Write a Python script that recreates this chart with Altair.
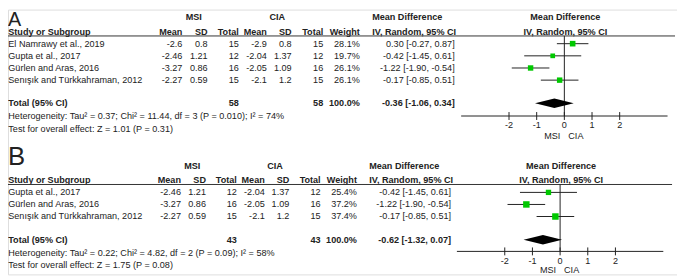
import altair as alt
import pandas as pd

# ---------------- data: panel A ----------------
studies_a = ["El Namrawy et al., 2019", "Gupta et al., 2017",
             "Gürlen and Aras, 2016", "Senışık and Türkkahraman, 2012"]
msi_mean_a = [-2.6, -2.46, -3.27, -2.27]
msi_sd_a = [0.8, 1.21, 0.86, 0.59]
msi_n_a = [15, 12, 16, 15]
cia_mean_a = [-2.9, -2.04, -2.05, -2.1]
cia_sd_a = [0.8, 1.37, 1.09, 1.2]
cia_n_a = [15, 12, 16, 15]
weight_a = [28.1, 19.7, 26.1, 26.1]
md_a = [0.30, -0.42, -1.22, -0.17]
lo_a = [-0.27, -1.45, -1.90, -0.85]
hi_a = [0.87, 0.61, -0.54, 0.51]
total_n_a = [58, 58]
total_md_a = [-0.36, -1.06, 0.34]
het_a = "Heterogeneity: Tau² = 0.37; Chi² = 11.44, df = 3 (P = 0.010); I² = 74%"
test_a = "Test for overall effect: Z = 1.01 (P = 0.31)"

# ---------------- data: panel B ----------------
studies_b = ["Gupta et al., 2017", "Gürlen and Aras, 2016",
             "Senışık and Türkkahraman, 2012"]
msi_mean_b = [-2.46, -3.27, -2.27]
msi_sd_b = [1.21, 0.86, 0.59]
msi_n_b = [12, 16, 15]
cia_mean_b = [-2.04, -2.05, -2.1]
cia_sd_b = [1.37, 1.09, 1.2]
cia_n_b = [12, 16, 15]
weight_b = [25.4, 37.2, 37.4]
md_b = [-0.42, -1.22, -0.17]
lo_b = [-1.45, -1.90, -0.85]
hi_b = [0.61, -0.54, 0.51]
total_n_b = [43, 43]
total_md_b = [-0.62, -1.32, 0.07]
het_b = "Heterogeneity: Tau² = 0.22; Chi² = 4.82, df = 2 (P = 0.09); I² = 58%"
test_b = "Test for overall effect: Z = 1.75 (P = 0.08)"

ticks = [-2, -1, 0, 1, 2]
tick_labels = ["-2", "-1", "0", "1", "2"]
col_headers = ["Mean", "SD", "Total", "Mean", "SD", "Total", "Weight"]

# ---------------- style / layout ----------------
FONT = "Liberation Sans"
FS = 9.2
TXT = "#222222"
GREEN = "#00c800"
W, H = 677, 268
DOM = 3.73
UNIT = 28.0

COLS = dict(study=8.3, mean1=184.5, sd1=210, tot1=241.5, mean2=270, sd2=295,
            tot2=327, weight=364, mdh=376.5, mdv=460, msi=196, cia=280.5)

PA = dict(letter="A", letter_size=20, letter_base=24.5, grp=16, hdr=30.7, line=34.7, line_r=683,
          row0=42.5, step=12.3, tot=102.8, het=116, test=129, axis=115.7,
          ticklab=125, side=135.5, xs=1.0, zero=571)
PB = dict(letter="B", letter_size=26, letter_base=165, grp=166, hdr=180.7, line=185, line_r=680,
          row0=193, step=12.2, tot=241, het=254.5, test=266.5, axis=252.7,
          ticklab=262, side=272, xs=0.992, zero=566.7)

ONE = pd.DataFrame({"k": [0]})


def label(s, x, y, align="left", bold=False, size=FS, baseline="middle"):
    return alt.Chart(ONE).mark_text(
        text=s, align=align, baseline=baseline, font=FONT, fontSize=size,
        fontWeight="bold" if bold else "normal", color=TXT
    ).encode(x=alt.value(x), y=alt.value(y))


def fmt_ci(m, l, h):
    return f"{m:.2f} [{l:.2f}, {h:.2f}]"


def panel(P, studies, m1, s1, n1, m2, s2, n2, w, md, lo, hi, tn, tmd, het, test):
    s = P["xs"]

    def X(px):
        return px * s - 8

    def Y(py):
        return py - 8

    n = len(studies)
    df = pd.DataFrame({
        "idx": list(range(n)), "study": studies,
        "m1": [str(v) for v in m1], "s1": [str(v) for v in s1], "n1": [str(v) for v in n1],
        "m2": [str(v) for v in m2], "s2": [str(v) for v in s2], "n2": [str(v) for v in n2],
        "w": w, "wl": [f"{v:.1f}%" for v in w],
        "md": md, "lo": lo, "hi": hi,
        "mdl": [fmt_ci(a, b, c) for a, b, c in zip(md, lo, hi)],
    })
    yscale = alt.Scale(domain=[0, n - 1], range=[Y(P["row0"]), Y(P["row0"] + (n - 1) * P["step"])])
    ry = alt.Y("idx:Q", scale=yscale, axis=None)
    z = P["zero"] - 8
    xscale = alt.Scale(domain=[-DOM, DOM], range=[z - DOM * UNIT, z + DOM * UNIT], nice=False, zero=False)

    L = []
    # panel letter
    L.append(label(P["letter"], 0, Y(P["letter_base"]), size=P["letter_size"], baseline="alphabetic"))
    # group headers
    L.append(label("MSI", X(COLS["msi"]), Y(P["grp"]), align="center", bold=True))
    L.append(label("CIA", X(COLS["cia"]), Y(P["grp"]), align="center", bold=True))
    L.append(label("Mean Difference", X(COLS["mdh"]), Y(P["grp"]), bold=True))
    L.append(label("Mean Difference", z + 1, Y(P["grp"]), align="center", bold=True))
    # column headers
    L.append(label("Study or Subgroup", X(COLS["study"]), Y(P["hdr"]), bold=True))
    for h, key in zip(col_headers, ["mean1", "sd1", "tot1", "mean2", "sd2", "tot2", "weight"]):
        L.append(label(h, X(COLS[key]), Y(P["hdr"]), align="right", bold=True))
    L.append(label("IV, Random, 95% CI", X(COLS["mdh"]), Y(P["hdr"]), bold=True))
    L.append(label("IV, Random, 95% CI", z + 1, Y(P["hdr"]), align="center", bold=True))
    # header underline
    L.append(alt.Chart(ONE).mark_rule(color="#333333", strokeWidth=1).encode(
        x=alt.value(0), x2=alt.value(P["line_r"] - 8), y=alt.value(Y(P["line"]))))

    # study rows
    base = alt.Chart(df)
    L.append(base.mark_text(align="left", baseline="middle", font=FONT, fontSize=FS, color=TXT)
             .encode(x=alt.value(X(COLS["study"])), y=ry, text="study:N"))
    for fld, key in [("m1", "mean1"), ("s1", "sd1"), ("n1", "tot1"), ("m2", "mean2"),
                     ("s2", "sd2"), ("n2", "tot2"), ("wl", "weight"), ("mdl", "mdv")]:
        L.append(base.mark_text(align="right", baseline="middle", font=FONT, fontSize=FS, color=TXT)
                 .encode(x=alt.value(X(COLS[key])), y=ry, text=f"{fld}:N"))

    # total row
    L.append(label("Total (95% CI)", X(COLS["study"]), Y(P["tot"]), bold=True))
    L.append(label(str(tn[0]), X(COLS["tot1"]), Y(P["tot"]), align="right", bold=True))
    L.append(label(str(tn[1]), X(COLS["tot2"]), Y(P["tot"]), align="right", bold=True))
    L.append(label("100.0%", X(COLS["weight"]), Y(P["tot"]), align="right", bold=True))
    L.append(label(fmt_ci(*tmd), X(COLS["mdv"]), Y(P["tot"]), align="right", bold=True))
    L.append(label(het, X(COLS["study"]), Y(P["het"])))
    L.append(label(test, X(COLS["study"]), Y(P["test"])))

    # forest plot
    fx = lambda f: alt.X(f, scale=xscale, axis=None)
    # zero line
    L.append(alt.Chart(ONE).mark_rule(color="#222222", strokeWidth=1).encode(
        x=alt.X("z:Q", scale=xscale, axis=None), y=alt.value(Y(P["line"])), y2=alt.value(Y(P["axis"])))
        .transform_calculate(z="0"))
    # CI lines
    L.append(base.mark_rule(color="#222222", strokeWidth=1).encode(
        x=fx("lo:Q"), x2="hi:Q", y=ry))
    # squares
    L.append(base.mark_square(filled=True, color=GREEN, opacity=1).encode(
        x=fx("md:Q"), y=ry,
        size=alt.Size("w:Q", scale=alt.Scale(domain=[0, 40], range=[0, 46]), legend=None)))
    # diamond
    ddf = pd.DataFrame({"x": [tmd[1], tmd[0], tmd[2]], "yt": [0, 1, 0], "yb": [0, -1, 0]})
    dscale = alt.Scale(domain=[-1, 1], range=[Y(P["tot"]) + 4.8, Y(P["tot"]) - 4.8])
    L.append(alt.Chart(ddf).mark_area(color="black", opacity=1).encode(
        x=fx("x:Q"), y=alt.Y("yt:Q", scale=dscale, axis=None), y2="yb:Q"))
    # axis line
    adf = pd.DataFrame({"a": [-DOM], "b": [DOM]})
    L.append(alt.Chart(adf).mark_rule(color="#222222", strokeWidth=1).encode(
        x=fx("a:Q"), x2="b:Q", y=alt.value(Y(P["axis"]))))
    # ticks
    tdf = pd.DataFrame({"t": ticks, "lab": tick_labels})
    L.append(alt.Chart(tdf).mark_rule(color="#222222", strokeWidth=1).encode(
        x=fx("t:Q"), y=alt.value(Y(P["axis"]) - 4), y2=alt.value(Y(P["axis"]) + 4)))
    L.append(alt.Chart(tdf).mark_text(align="center", baseline="middle", font=FONT, fontSize=FS, color=TXT)
             .encode(x=fx("t:Q"), y=alt.value(Y(P["ticklab"])), text="lab:N"))
    # favours labels
    L.append(label("MSI", z - 4, Y(P["side"]), align="right"))
    L.append(label("CIA", z + 4, Y(P["side"]), align="left"))
    return L


layers_a = panel(PA, studies_a, msi_mean_a, msi_sd_a, msi_n_a, cia_mean_a, cia_sd_a, cia_n_a,
                 weight_a, md_a, lo_a, hi_a, total_n_a, total_md_a, het_a, test_a)
layers_b = panel(PB, studies_b, msi_mean_b, msi_sd_b, msi_n_b, cia_mean_b, cia_sd_b, cia_n_b,
                 weight_b, md_b, lo_b, hi_b, total_n_b, total_md_b, het_b, test_b)

chart = alt.layer(*(layers_a + layers_b)).resolve_scale(
    x="independent", y="independent", size="independent"
).properties(
    width=W, height=H, padding=0, autosize=alt.AutoSizeParams(type="none")
).configure_view(stroke=None).configure(background="white")

chart.save("out.html", embed_options={"renderer": "svg", "actions": False})
